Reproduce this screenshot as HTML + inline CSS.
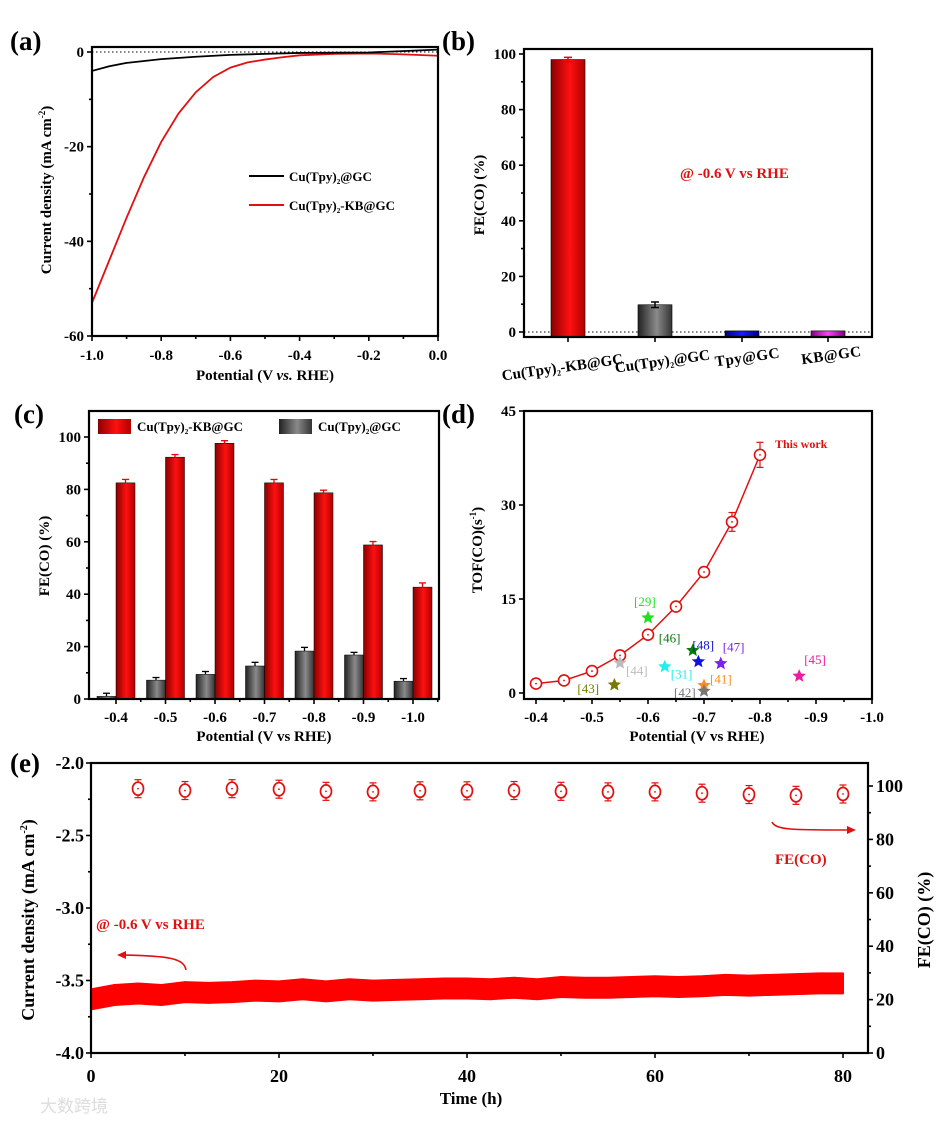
<!DOCTYPE html>
<html><head><meta charset="utf-8">
<style>
html,body{margin:0;padding:0;background:#fff;}
svg{display:block;font-family:"Liberation Serif","Noto Serif CJK SC",serif;font-weight:bold;}
</style></head>
<body>
<svg id="fig" width="945" height="1123" viewBox="0 0 945 1123" xmlns="http://www.w3.org/2000/svg">
<defs>
<linearGradient id="gRed" x1="0" x2="1" y1="0" y2="0"><stop offset="0" stop-color="#8a0000"/><stop offset="0.55" stop-color="#ff1010"/><stop offset="1" stop-color="#b00000"/></linearGradient>
<linearGradient id="gGray" x1="0" x2="1" y1="0" y2="0"><stop offset="0" stop-color="#222"/><stop offset="0.55" stop-color="#8a8a8a"/><stop offset="1" stop-color="#333"/></linearGradient>
<linearGradient id="gBlue" x1="0" x2="1"><stop offset="0" stop-color="#000080"/><stop offset="0.5" stop-color="#1a1aff"/><stop offset="1" stop-color="#000080"/></linearGradient>
<linearGradient id="gMag" x1="0" x2="1"><stop offset="0" stop-color="#800080"/><stop offset="0.5" stop-color="#ff40ff"/><stop offset="1" stop-color="#800080"/></linearGradient>
</defs>
</svg>
<script>
// ---- Panel (a) data
const aX = [-1.0,-0.95,-0.9,-0.85,-0.8,-0.75,-0.7,-0.65,-0.6,-0.55,-0.5,-0.45,-0.4,-0.3,-0.2,-0.1,0.0];
const aRed = [-53,-44,-35,-26.5,-19,-13,-8.5,-5.3,-3.3,-2.2,-1.6,-1.1,-0.7,-0.4,-0.3,-0.5,-0.8];
const aBlackX = [-1.0,-0.95,-0.9,-0.8,-0.7,-0.6,-0.5,-0.4,-0.2,0.0];
const aBlack = [-4,-3,-2.3,-1.5,-1,-0.6,-0.4,-0.2,-0.1,0.5];
const aXTicks = ["-1.0","-0.8","-0.6","-0.4","-0.2","0.0"];
const aYTicks = ["0","-20","-40","-60"];
// ---- Panel (b) data
const bCats = ["Cu(Tpy)2-KB@GC","Cu(Tpy)2@GC","Tpy@GC","KB@GC"];
const bVals = [98,9.8,0.4,0.4];
const bErr = [0.8,1.0,0,0];
const bYTicks = ["0","20","40","60","80","100"];
// ---- Panel (c) data
const cCats = ["-0.4","-0.5","-0.6","-0.7","-0.8","-0.9","-1.0"];
const cRed = [82.5,92.3,97.6,82.5,78.7,58.8,42.7];
const cRedErr = [1.3,1.0,1.0,1.3,1.0,1.3,1.6];
const cGray = [1,7.2,9.4,12.6,18.3,16.8,6.8];
const cGrayErr = [1.2,1.0,1.1,1.4,1.4,1.0,1.0];
const cYTicks = ["0","20","40","60","80","100"];
// ---- Panel (d) data
const dX = [-0.4,-0.45,-0.5,-0.55,-0.6,-0.65,-0.7,-0.75,-0.8];
const dTOF = [1.5,2,3.5,6,9.3,13.8,19.3,27.3,38];
const dErr = [0.5,0.5,0.6,0.6,0.5,0.5,0.8,1.5,2];
const starX = [-0.6,-0.68,-0.69,-0.73,-0.87,-0.55,-0.63,-0.54,-0.70,-0.70];
const starY = [12,6.8,5,4.7,2.7,4.8,4.2,1.3,1.2,0.3];
const starLab = ["[29]","[46]","[48]","[47]","[45]","[44]","[31]","[43]","[41]","[42]"];
const starCol = ["#22e022","#0b7a0b","#1010e0","#7a22ee","#ee1aa0","#bbbbbb","#22eeee","#7a7a00","#ff8c1a","#777777"];
const dXTicks = ["-0.4","-0.5","-0.6","-0.7","-0.8","-0.9","-1.0"];
const dYTicks = ["0","15","30","45"];
// ---- Panel (e) data
const eT = [0,2.5,5,7.5,10,12.5,15,17.5,20,22.5,25,27.5,30,32.5,35,37.5,40,42.5,45,47.5,50,52.5,55,57.5,60,62.5,65,67.5,70,72.5,75,77.5,80];
const eJ = [-3.63,-3.6,-3.59,-3.6,-3.58,-3.585,-3.58,-3.57,-3.575,-3.56,-3.575,-3.56,-3.57,-3.565,-3.56,-3.555,-3.555,-3.56,-3.55,-3.56,-3.545,-3.55,-3.55,-3.545,-3.54,-3.545,-3.54,-3.53,-3.535,-3.53,-3.525,-3.52,-3.52];
const eFeT = [5,10,15,20,25,30,35,40,45,50,55,60,65,70,75,80];
const eFe = [99,98.3,99,98.8,98,97.8,98.2,98.2,98.3,98,97.8,97.8,97.3,96.8,96.5,97];
const eXTicks = ["0","20","40","60","80"];
const eYTicks = ["-2.0","-2.5","-3.0","-3.5","-4.0"];
const eY2Ticks = ["0","20","40","60","80","100"];

const svg = document.getElementById('fig');
const NS = 'http://www.w3.org/2000/svg';
function mk(tag, attrs, parent){const e=document.createElementNS(NS,tag);for(const k in attrs)e.setAttribute(k,attrs[k]);(parent||svg).appendChild(e);return e;}
function txt(s, x, y, size, opts, parent){const e=mk('text',Object.assign({x:x,y:y,'font-size':size},opts||{}),parent);e.textContent=s;return e;}
function lin(d0,d1,r0,r1){return v=>r0+(v-d0)*(r1-r0)/(d1-d0);}
function group(name){const g=mk('g',{});return g;}

function frame(g,x0,y0,x1,y1){const r=mk('rect',{x:x0,y:y0,width:x1-x0,height:y1-y0,fill:'none',stroke:'#000','stroke-width':2.2},g);}
function tickLine(g,x1,y1,x2,y2){mk('line',{x1:x1,y1:y1,x2:x2,y2:y2,stroke:'#000','stroke-width':1.6},g);}
function star(cx,cy,r,col,g){let p=[];for(let i=0;i<10;i++){const a=-Math.PI/2+i*Math.PI/5;const rr=i%2?r*0.45:r;p.push((cx+rr*Math.cos(a)).toFixed(1)+','+(cy+rr*Math.sin(a)).toFixed(1));}return mk('polygon',{points:p.join(' '),fill:col},g);}
function sub2(label,pre,post,x,y,size,opts,g){const t=mk('text',Object.assign({x:x,y:y,'font-size':size},opts||{}),g);t.appendChild(document.createTextNode(pre));const s=mk('tspan',{'font-size':size*0.55,dy:3},t);s.textContent='2';const r=mk('tspan',{dy:-3},t);r.textContent=post;return t;}

// Panel labels
[["(a)",10,50],["(b)",442,50],["(c)",14,423],["(d)",442,423],["(e)",10,772]].forEach(p=>{const t=txt(p[0],p[1],p[2],27);});

// ===== Panel (a)
(function(){
const g=group('panel-a-lsv');
const X=lin(-1,0,92,438), Y=lin(0,-60,52,336);
mk('line',{x1:92,y1:Y(0),x2:438,y2:Y(0),stroke:'#000','stroke-width':1,'stroke-dasharray':'1.5,2.5'},g);
const pr=aX.map((v,i)=>X(v)+','+Y(aRed[i])).join(' ');
const l1=mk('polyline',{points:pr,fill:'none',stroke:'#e01010','stroke-width':1.8},g);

const pb=aBlackX.map((v,i)=>X(v)+','+Y(aBlack[i])).join(' ');
const l2=mk('polyline',{points:pb,fill:'none',stroke:'#000','stroke-width':1.8},g);

frame(g,92,47,438,336);
aXTicks.forEach(s=>{const x=X(parseFloat(s));tickLine(g,x,336,x,341);txt(s,x,360,15,{'text-anchor':'middle'},g);});
for(let v=-0.9;v<0;v+=0.2){tickLine(g,X(v),336,X(v),339);}
aYTicks.forEach(s=>{const y=Y(parseFloat(s));tickLine(g,87,y,92,y);txt(s,84,y+5,15,{'text-anchor':'end'},g);});
for(let v=-10;v>-60;v-=20){tickLine(g,89,Y(v),92,Y(v));}
const xt=txt('Potential (V ',265,380,15,{'text-anchor':'middle'},g);const it=mk('tspan',{'font-style':'italic'},xt);it.textContent='vs.';const r2=mk('tspan',{},xt);r2.textContent=' RHE)';

const yt=mk('text',{transform:'translate(51,190) rotate(-90)','text-anchor':'middle','font-size':15},g);yt.textContent='Current density (mA cm';const sp=mk('tspan',{'font-size':9,dy:-6},yt);sp.textContent='-2';const sp2=mk('tspan',{dy:6},yt);sp2.textContent=')';

mk('line',{x1:249,y1:176,x2:284,y2:176,stroke:'#000','stroke-width':2},g);
const le1=sub2('','Cu(Tpy)','@GC',289,181,13,{},g);
mk('line',{x1:249,y1:205,x2:284,y2:205,stroke:'#e01010','stroke-width':2},g);
const le2=sub2('','Cu(Tpy)','-KB@GC',289,210,13,{},g);
})();

// ===== Panel (b)
(function(){
const g=group('panel-b-fe-bars');
const Y=lin(0,100,332,54);const bx=[568,655,742,828];const fills=['url(#gRed)','url(#gGray)','url(#gBlue)','url(#gMag)'];
mk('line',{x1:524,y1:Y(0),x2:872,y2:Y(0),stroke:'#000','stroke-width':1,'stroke-dasharray':'1.5,2.5'},g);
bVals.forEach((v,i)=>{const y=Math.min(Y(v),333);const b=mk('rect',{x:bx[i]-17,y:y,width:34,height:337-y,fill:fills[i],stroke:'#000','stroke-width':0.6},g);

if(bErr[i]>0){const c=i==0?'#e00':'#000';mk('line',{x1:bx[i],y1:Y(v+bErr[i]),x2:bx[i],y2:Y(v-bErr[i]),stroke:c,'stroke-width':1.5},g);[v+bErr[i],v-bErr[i]].forEach(e=>mk('line',{x1:bx[i]-4,y1:Y(e),x2:bx[i]+4,y2:Y(e),stroke:c,'stroke-width':1.5},g));}});
frame(g,524,49,872,337);
bYTicks.forEach(s=>{const y=Y(+s);tickLine(g,519,y,524,y);txt(s,516,y+5,15,{'text-anchor':'end'},g);});
for(let v=10;v<100;v+=20)tickLine(g,521,Y(v),524,Y(v));
bx.forEach(x=>tickLine(g,x,337,x,342));
const labs=[['Cu(Tpy)','-KB@GC',563,372],['Cu(Tpy)','@GC',663,366],['Tpy@GC','',748,362],['KB@GC','',832,360]];
labs.forEach((l,i)=>{let t;if(i<2){t=sub2('',l[0],l[1],0,0,15,{'text-anchor':'middle'},g);}else{t=txt(l[0],0,0,15,{'text-anchor':'middle','letter-spacing':'0.5'},g);}t.setAttribute('transform','translate('+l[2]+','+l[3]+') rotate(-8)');});
const yt=txt('FE(CO) (%)',0,0,15,{transform:'translate(484,195) rotate(-90)','text-anchor':'middle'},g);
const an=txt('@ -0.6 V vs RHE',680,178,15,{fill:'#e01010'},g);
})();

// ===== Panel (c)
(function(){
const g=group('panel-c-fe-potential');
const Y=lin(0,100,699,437);const X0=116,dx=49.5;
cCats.forEach((c,i)=>{const cx=X0+dx*i;
const gb=mk('rect',{x:cx-19,y:Y(cGray[i]),width:19,height:699-Y(cGray[i]),fill:'url(#gGray)',stroke:'#000','stroke-width':0.5},g);
const rb=mk('rect',{x:cx,y:Y(cRed[i]),width:19,height:699-Y(cRed[i]),fill:'url(#gRed)',stroke:'#000','stroke-width':0.5},g);
[[cx-9.5,cGray[i],cGrayErr[i],'#000'],[cx+9.5,cRed[i],cRedErr[i],'#e00']].forEach(b=>{mk('line',{x1:b[0],y1:Y(b[1]+b[2]),x2:b[0],y2:Y(b[1]),stroke:b[3],'stroke-width':1.3},g);mk('line',{x1:b[0]-3.5,y1:Y(b[1]+b[2]),x2:b[0]+3.5,y2:Y(b[1]+b[2]),stroke:b[3],'stroke-width':1.3},g);});
tickLine(g,cx,699,cx,704);txt(c,cx,722,15,{'text-anchor':'middle'},g);
tickLine(g,cx+dx/2,699,cx+dx/2,702);});
frame(g,89,411,439,699);
cYTicks.forEach(s=>{const y=Y(+s);tickLine(g,84,y,89,y);txt(s,81,y+5,15,{'text-anchor':'end'},g);});
for(let v=10;v<110;v+=20)tickLine(g,86,Y(v),89,Y(v));
const xt=txt('Potential (V vs RHE)',264,741,15,{'text-anchor':'middle'},g);
const yt=txt('FE(CO) (%)',0,0,15,{transform:'translate(49,556) rotate(-90)','text-anchor':'middle'},g);
const s1=mk('rect',{x:98,y:419,width:33,height:15,fill:'url(#gRed)'},g);
const l1=sub2('','Cu(Tpy)','-KB@GC',137,431,13,{},g);
const s2=mk('rect',{x:279,y:419,width:33,height:15,fill:'url(#gGray)'},g);
const l2=sub2('','Cu(Tpy)','@GC',318,431,13,{},g);
})();

// ===== Panel (d)
(function(){
const g=group('panel-d-tof');
const X=lin(-0.4,-1.0,536,872),Y=lin(0,45,693,411);
const pl=mk('polyline',{points:dX.map((v,i)=>X(v)+','+Y(dTOF[i])).join(' '),fill:'none',stroke:'#e01010','stroke-width':1.5},g);
dX.forEach((v,i)=>{const x=X(v),y=Y(dTOF[i]);mk('line',{x1:x,y1:Y(dTOF[i]+dErr[i]),x2:x,y2:Y(dTOF[i]-dErr[i]),stroke:'#e01010','stroke-width':1.2},g);[dTOF[i]+dErr[i],dTOF[i]-dErr[i]].forEach(e=>mk('line',{x1:x-3.5,y1:Y(e),x2:x+3.5,y2:Y(e),stroke:'#e01010','stroke-width':1.2},g));
const c=mk('circle',{cx:x,cy:y,r:5.5,fill:'#fff',stroke:'#e01010','stroke-width':1.6},g);mk('circle',{cx:x,cy:y,r:0.9,fill:'#e01010'},g);});
const labPos=[[-14,-12],[-34,-8],[-6,-12],[2,-12],[5,-12],[6,12],[6,12],[-37,8],[6,-2],[-30,6]];
starX.forEach((v,i)=>{const x=X(v),y=Y(starY[i]);const s=star(x,y,7,starCol[i],g);
txt(starLab[i],x+labPos[i][0],y+labPos[i][1],13,{fill:starCol[i],'font-weight':'normal'},g);});
txt('This work',775,448,12,{fill:'#e01010'},g);
frame(g,524,411,872,699);
dXTicks.forEach(s=>{const x=X(+s);tickLine(g,x,699,x,704);txt(s,x,722,15,{'text-anchor':'middle'},g);});
for(let v=-0.45;v>-1.0;v-=0.1)tickLine(g,X(v),699,X(v),702);
dYTicks.forEach(s=>{const y=Y(+s);tickLine(g,519,y,524,y);txt(s,516,y+5,15,{'text-anchor':'end'},g);});
const xt=txt('Potential (V vs RHE)',697,741,15,{'text-anchor':'middle'},g);
const yt=mk('text',{transform:'translate(482,550) rotate(-90)','text-anchor':'middle','font-size':15},g);yt.textContent='TOF(CO)(s';const sp=mk('tspan',{'font-size':9,dy:-6},yt);sp.textContent='-1';const sp2=mk('tspan',{dy:6},yt);sp2.textContent=')';
})();

// ===== Panel (e)
(function(){
const g=group('panel-e-stability');
const X=lin(0,80,91,843),Y=lin(-2,-4,763,1053),Y2=lin(0,100,1053,786);
const up=eT.map((t,i)=>X(t)+','+(Y(eJ[i])-10)),dn=eT.map((t,i)=>X(t)+','+(Y(eJ[i])+10)).reverse();
const band=mk('polygon',{points:up.concat(dn).join(' '),fill:'#ff0000',stroke:'#ff0000','stroke-width':2,'stroke-linejoin':'round'},g);
eFeT.forEach((t,i)=>{const x=X(t),y=Y2(eFe[i]);mk('line',{x1:x,y1:y-9,x2:x,y2:y+9,stroke:'#e01010','stroke-width':1.2},g);[y-9,y+9].forEach(e=>mk('line',{x1:x-3.5,y1:e,x2:x+3.5,y2:e,stroke:'#e01010','stroke-width':1.2},g));
const c=mk('ellipse',{cx:x,cy:y,rx:5.5,ry:6.5,fill:'#fff',stroke:'#e01010','stroke-width':1.7},g);mk('circle',{cx:x,cy:y,r:0.9,fill:'#e01010'},g);});
mk('rect',{x:91,y:763,width:777,height:290,fill:'none',stroke:'#000','stroke-width':2.2},g);
eXTicks.forEach(s=>{const x=X(+s);tickLine(g,x,1053,x,1058);txt(s,x,1082,18,{'text-anchor':'middle'},g);});
for(let v=10;v<=70;v+=20)tickLine(g,X(v),1053,X(v),1056);
eYTicks.forEach(s=>{const y=Y(+s);tickLine(g,86,y,91,y);txt(s,84,y+6,18,{'text-anchor':'end'},g);});
for(let v=-2.25;v>-4;v-=0.5)tickLine(g,88,Y(v),91,Y(v));
eY2Ticks.forEach(s=>{const y=Y2(+s);tickLine(g,868,y,873,y);txt(s,876,y+6,18,{},g);});
for(let v=10;v<100;v+=20)tickLine(g,868,Y2(v),871,Y2(v));
const xt=txt('Time (h)',471,1104,17,{'text-anchor':'middle'},g);
const yt=mk('text',{transform:'translate(34,920) rotate(-90)','text-anchor':'middle','font-size':18},g);yt.textContent='Current density (mA cm';const sp=mk('tspan',{'font-size':10,dy:-7},yt);sp.textContent='-2';const sp2=mk('tspan',{dy:7},yt);sp2.textContent=')';
const y2=txt('FE(CO) (%)',0,0,18,{transform:'translate(930,920) rotate(-90)','text-anchor':'middle'},g);
const a1=txt('@ -0.6 V vs RHE',96,929,15,{fill:'#e01010'},g);
const f1=txt('FE(CO)',775,864,15,{fill:'#e01010'},g);
mk('path',{d:'M186,970 C184,958 168,956 124,955',fill:'none',stroke:'#e01010','stroke-width':1.6},g);
mk('polygon',{points:'117,955 126,951 126,959',fill:'#e01010'},g);
mk('path',{d:'M772,822 C776,830 792,830 848,830',fill:'none',stroke:'#e01010','stroke-width':1.6},g);
mk('polygon',{points:'856,830 847,826 847,834',fill:'#e01010'},g);
const wm=txt('大数跨境',40,1112,17,{fill:'#ddd','font-weight':'normal','font-family':'"Noto Sans CJK SC",sans-serif'},g);
})();
</script>
</body></html>
